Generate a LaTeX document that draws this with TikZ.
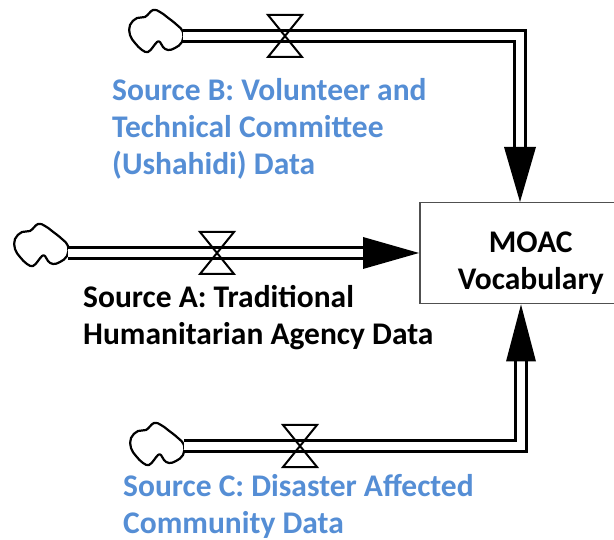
\documentclass[tikz,border=0pt]{standalone}
\usepackage{fontspec}
\setmainfont{Carlito}
\usetikzlibrary{calc}
\definecolor{srcblue}{RGB}{85,142,213}
\definecolor{boxgray}{RGB}{80,80,80}

\tikzset{
  pipe/.style={draw=black, line width=2.6pt, double=white, double distance=8pt, line join=miter},
  tiphead/.style={fill=black},
  cloudline/.style={draw=black, line width=2.2pt, line join=round},
  valveline/.style={draw=black, line width=2pt, line join=miter},
  stockbox/.style={draw=boxgray, line width=1.5pt, rectangle, inner sep=0pt,
                   minimum width=222pt, minimum height=101pt},
  lbl/.style={font=\fontsize{31.5}{37}\selectfont\bfseries, align=left, inner sep=0pt},
  cloudpic/.pic={
    \draw[cloudline] plot[smooth cycle, tension=0.7] coordinates {
      (2,15) (9,8) (17,7) (25,0) (32,2) (39,7) (49,15) (55,22) (54,32)
      (47,38) (40,40) (35,37) (32,32) (29,32) (25,37) (20,42) (14,40) (7,33) (2,25)};
    \coordinate (-out) at (55,26);
  },
  valvepic/.pic={
    \draw[valveline] (-17,-21) -- (17,-21) -- (-17,21) -- (17,21) -- cycle;
    \coordinate (-c) at (0,0);
  }
}

\begin{document}
\begin{tikzpicture}[x=1pt,y=-1pt]
\clip (0,0) rectangle (614,540);
\fill[white] (0,0) rectangle (614,540);

% stock
\node[stockbox, anchor=north west] (moac) at (419,202) {};
\node[font=\fontsize{31.5}{37}\selectfont\bfseries, align=center, inner sep=0pt]
  (moaclabel) at ($(moac.center)+(0,10)$) {MOAC\\Vocabulary};

% clouds (sources)
\pic (cb) at (128,10) {cloudpic};
\pic (ca) at (13,224) {cloudpic};
\pic (cc) at (129,423) {cloudpic};

% valve centres on the flows
\coordinate (vbc) at (285,36);
\coordinate (vac) at (217,253);
\coordinate (vcc) at (300,446);

% arrow tips on the stock
\path (moac.north west) ++(101,0) coordinate (tipB);
\path (moac.west |- vac) coordinate (tipA);
\path (moac.south west) ++(102,0) coordinate (tipC);

% flows
\draw[pipe] (cb-out |- vbc) -- (vbc) -| ($(tipB)+(0,-55)$);
\draw[pipe] (ca-out |- vac) -- (vac) -- ($(tipA)+(-56,0)$);
\draw[pipe] (cc-out |- vcc) -- (vcc) -| ($(tipC)+(0,57)$);

\fill[tiphead] (tipB) -- ++(-16,-55) -- ++(32,0) -- cycle;
\fill[tiphead] (tipA) -- ++(-56,-16) -- ++(0,32) -- cycle;
\fill[tiphead] (tipC) -- ++(-15,57) -- ++(30,0) -- cycle;

% valves over the flows
\pic (vb) at (vbc) {valvepic};
\pic (va) at (vac) {valvepic};
\pic (vc) at (vcc) {valvepic};

% labels (anchored at the baseline of their last line)
\node[lbl, text=srcblue, anchor=base west] (labB) at (112,175)
  {Source B: Volunteer and\\Technical Committee\\(Ushahidi) Data};
\node[lbl, text=black, anchor=base west] (labA) at (83,345)
  {Source A: Traditional\\Humanitarian Agency Data};
\node[lbl, text=srcblue, anchor=base west] (labC) at (123,533)
  {Source C: Disaster Affected\\Community Data};
\end{tikzpicture}
\end{document}
